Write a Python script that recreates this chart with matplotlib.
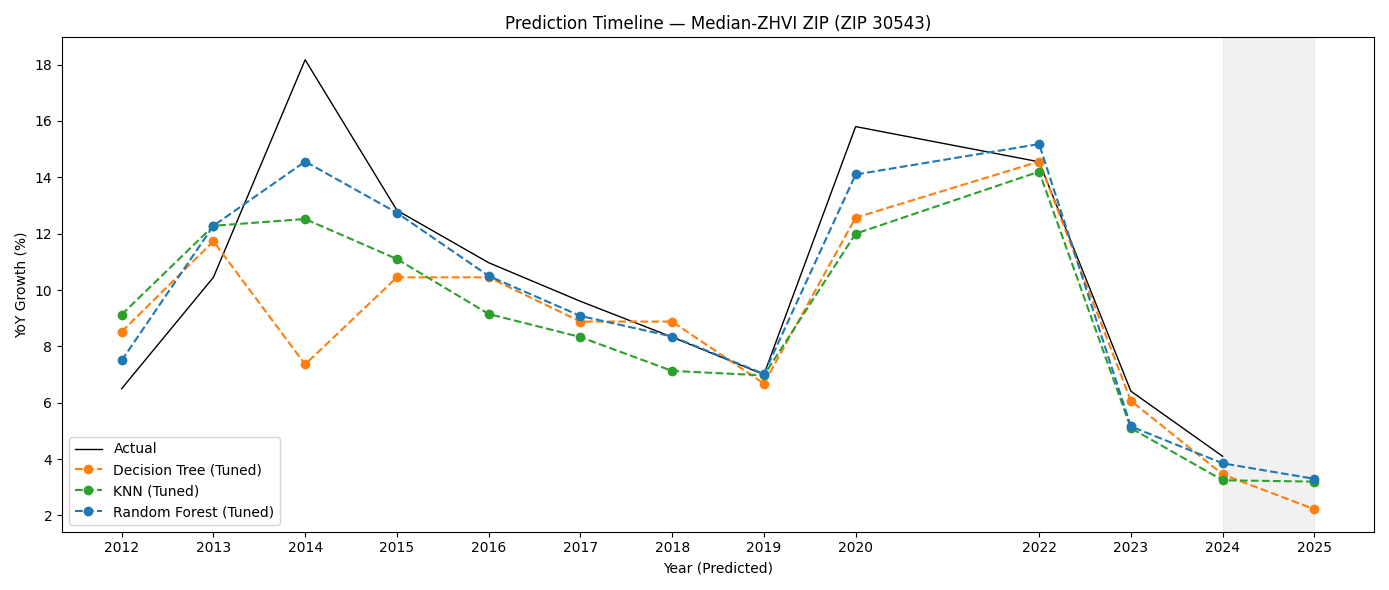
import matplotlib
matplotlib.use("Agg")
import matplotlib.pyplot as plt

years = [2012, 2013, 2014, 2015, 2016, 2017, 2018, 2019, 2020, 2022, 2023, 2024, 2025]
actual_years = years[:-1]
actual = [6.5, 10.45, 18.17, 12.83, 10.97, 9.6, 8.33, 7.0, 15.8, 14.55, 6.41, 4.1]
dt = [8.52, 11.73, 7.36, 10.45, 10.45, 8.88, 8.88, 6.68, 12.57, 14.56, 6.07, 3.46, 2.22]
knn = [9.13, 12.28, 12.52, 11.1, 9.15, 8.33, 7.13, 6.97, 12.0, 14.2, 5.1, 3.25, 3.2]
rf = [7.5, 12.28, 14.56, 12.74, 10.5, 9.08, 8.35, 7.02, 14.1, 15.18, 5.16, 3.85, 3.3]

fig, ax = plt.subplots(figsize=(13.89, 5.9), dpi=100)
ax.axvspan(2024, 2025, color="lightgray", alpha=0.3)
ax.plot(actual_years, actual, color="black", linewidth=1, label="Actual")
ax.plot(years, dt, "--o", color="#ff7f0e", label="Decision Tree (Tuned)")
ax.plot(years, knn, "--o", color="#2ca02c", label="KNN (Tuned)")
ax.plot(years, rf, "--o", color="#1f77b4", label="Random Forest (Tuned)")
ax.set_xticks(years)
ax.set_xticklabels([str(y) for y in years])
ax.set_title("Prediction Timeline — Median-ZHVI ZIP (ZIP 30543)")
ax.set_xlabel("Year (Predicted)")
ax.set_ylabel("YoY Growth (%)")
ax.legend(loc="lower left")
fig.tight_layout()
fig.savefig("out.png")
